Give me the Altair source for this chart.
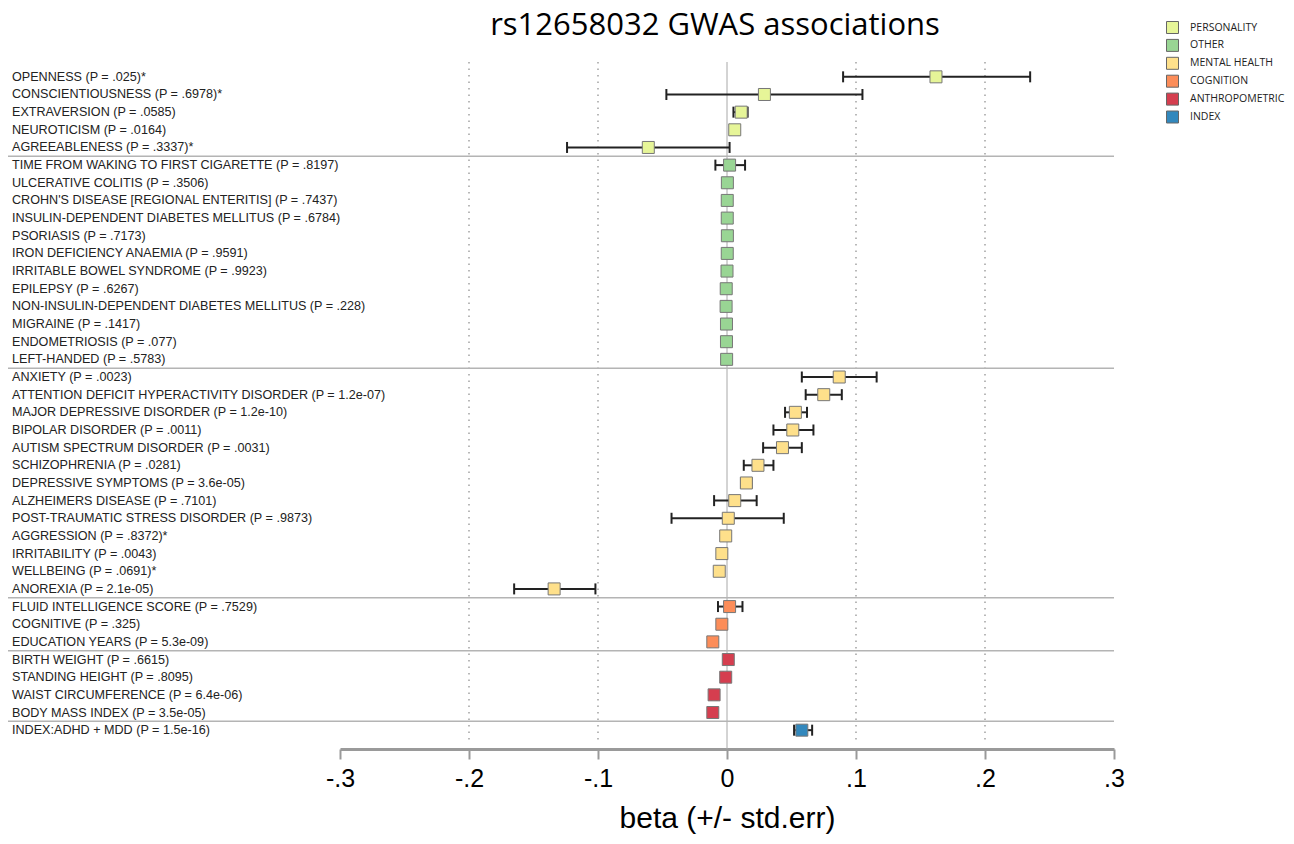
import altair as alt
import pandas as pd

title_text = "rs12658032 GWAS associations"
x_title = "beta (+/- std.err)"

labels = [
    "OPENNESS  (P = .025)*",
    "CONSCIENTIOUSNESS  (P = .6978)*",
    "EXTRAVERSION  (P = .0585)",
    "NEUROTICISM (P = .0164)",
    "AGREEABLENESS (P = .3337)*",
    "TIME FROM WAKING TO FIRST CIGARETTE  (P = .8197)",
    "ULCERATIVE COLITIS (P = .3506)",
    "CROHN'S DISEASE [REGIONAL ENTERITIS] (P = .7437)",
    "INSULIN-DEPENDENT DIABETES MELLITUS (P = .6784)",
    "PSORIASIS (P = .7173)",
    "IRON DEFICIENCY ANAEMIA (P = .9591)",
    "IRRITABLE BOWEL SYNDROME (P = .9923)",
    "EPILEPSY (P = .6267)",
    "NON-INSULIN-DEPENDENT DIABETES MELLITUS (P = .228)",
    "MIGRAINE (P = .1417)",
    "ENDOMETRIOSIS (P = .077)",
    "LEFT-HANDED (P = .5783)",
    "ANXIETY  (P = .0023)",
    "ATTENTION DEFICIT HYPERACTIVITY DISORDER (P = 1.2e-07)",
    "MAJOR DEPRESSIVE DISORDER (P = 1.2e-10)",
    "BIPOLAR DISORDER (P = .0011)",
    "AUTISM SPECTRUM DISORDER  (P = .0031)",
    "SCHIZOPHRENIA  (P = .0281)",
    "DEPRESSIVE SYMPTOMS  (P = 3.6e-05)",
    "ALZHEIMERS DISEASE  (P = .7101)",
    "POST-TRAUMATIC STRESS DISORDER  (P = .9873)",
    "AGGRESSION  (P = .8372)*",
    "IRRITABILITY  (P = .0043)",
    "WELLBEING (P = .0691)*",
    "ANOREXIA (P = 2.1e-05)",
    "FLUID INTELLIGENCE SCORE (P = .7529)",
    "COGNITIVE  (P = .325)",
    "EDUCATION YEARS  (P = 5.3e-09)",
    "BIRTH WEIGHT  (P = .6615)",
    "STANDING HEIGHT  (P = .8095)",
    "WAIST CIRCUMFERENCE  (P = 6.4e-06)",
    "BODY MASS INDEX  (P = 3.5e-05)",
    "INDEX:ADHD + MDD  (P = 1.5e-16)",
]

groups = (["PERSONALITY"] * 5 + ["OTHER"] * 12 + ["MENTAL HEALTH"] * 13
          + ["COGNITION"] * 3 + ["ANTHROPOMETRIC"] * 4 + ["INDEX"])

beta = [0.162, 0.029, 0.011, 0.006, -0.061,
        0.002, 0.0003, 0.0002, 0.0002, 0.0003, 0.0002, 0.0, -0.0006, -0.0007, -0.0004, -0.0004, -0.0003,
        0.087, 0.075, 0.053, 0.051, 0.043, 0.024, 0.015, 0.006, 0.001, -0.001, -0.004, -0.006, -0.134,
        0.002, -0.004, -0.011,
        0.001, -0.001, -0.010, -0.011,
        0.058]

ci_low = [0.090, -0.047, 0.005, 0.003, -0.124,
          -0.009, -0.002, -0.002, -0.002, -0.002, -0.002, -0.002, -0.003, -0.003, -0.002, -0.002, -0.002,
          0.058, 0.061, 0.045, 0.036, 0.028, 0.013, 0.011, -0.010, -0.043, -0.003, -0.006, -0.008, -0.165,
          -0.007, -0.006, -0.013,
          -0.001, -0.003, -0.012, -0.013,
          0.052]

ci_high = [0.235, 0.105, 0.016, 0.009, 0.002,
           0.014, 0.002, 0.002, 0.002, 0.002, 0.002, 0.002, 0.002, 0.002, 0.002, 0.002, 0.002,
           0.116, 0.089, 0.062, 0.067, 0.058, 0.036, 0.019, 0.023, 0.044, 0.001, -0.002, -0.004, -0.102,
           0.012, -0.002, -0.009,
           0.003, 0.001, -0.008, -0.009,
           0.066]

group_order = ["PERSONALITY", "OTHER", "MENTAL HEALTH", "COGNITION", "ANTHROPOMETRIC", "INDEX"]
group_colors = ["#e6f598", "#99d594", "#fee08b", "#fc8d59", "#d53e4f", "#3288bd"]

tick_values = [-0.3, -0.2, -0.1, 0.0, 0.1, 0.2, 0.3]
tick_labels = ["-.3", "-.2", "-.1", "0", ".1", ".2", ".3"]
grid_values = [-0.2, -0.1, 0.1, 0.2]
zero_value = [0.0]

W = 1106
H = 671

df = pd.DataFrame({"label": labels, "group": groups, "beta": beta, "lo": ci_low, "hi": ci_high})
sep_df = df.groupby("group", sort=False).head(1).iloc[1:]

label_expr = "[" + ",".join("'%s'" % t for t in tick_labels) + "][round(datum.value*10)+3]"

xscale = alt.Scale(domain=[-0.3, 0.3], range=[332, W], nice=False, zero=False)
xaxis = alt.Axis(values=tick_values, labelExpr=label_expr, grid=False,
                 domainColor="#9a9a9a", domainWidth=3, tickColor="#9a9a9a", tickWidth=2,
                 tickSize=10, labelFont="Liberation Sans", labelFontSize=25, labelColor="#000",
                 labelPadding=7, labelFlush=False, title=x_title, titleFont="Liberation Sans",
                 titleFontSize=30, titleFontWeight="normal", titleColor="#000", titlePadding=12,
                 offset=10)
yscale = alt.Scale(domain=labels, paddingInner=0, paddingOuter=0)


def X(field):
    return alt.X(field, type="quantitative", scale=xscale, axis=xaxis)


def Y(**kw):
    return alt.Y("label:N", scale=yscale, axis=None, **kw)


grid = alt.Chart(pd.DataFrame({"v": grid_values})).mark_rule(
    color="#8a8a8a", strokeWidth=1.2, strokeDash=[1.5, 5]
).encode(x=X("v"), y=alt.value(-6), y2=alt.value(H + 4))

zero = alt.Chart(pd.DataFrame({"v": zero_value})).mark_rule(
    color="#a8a8a8", strokeWidth=1
).encode(x=X("v"), y=alt.value(-6), y2=alt.value(H + 10))

seps = alt.Chart(sep_df).mark_rule(color="#b4b4b4", strokeWidth=1.5).encode(
    y=Y(bandPosition=0), x=alt.value(0), x2=alt.value(W)
)

text = alt.Chart(df).mark_text(
    align="left", baseline="middle", font="Liberation Sans", fontSize=12.6, color="#222"
).encode(y=Y(), x=alt.value(4), text="label:N")

err = alt.Chart(df).mark_rule(color="#222", strokeWidth=2).encode(
    x=X("lo"), x2="hi", y=Y()
)

caps = alt.Chart(df).transform_fold(["lo", "hi"], as_=["end", "v"]).mark_tick(
    color="#222", thickness=2, size=11, opacity=1
).encode(x=X("v"), y=Y())

squares = alt.Chart(df).mark_square(size=144, opacity=1, stroke="#777", strokeWidth=1).encode(
    x=X("beta"), y=Y(),
    color=alt.Color("group:N", scale=alt.Scale(domain=group_order, range=group_colors),
                    legend=alt.Legend(orient="none", legendX=1158, legendY=-47, title=None,
                                      symbolType="square", symbolSize=144,
                                      symbolStrokeColor="#666", symbolStrokeWidth=1,
                                      labelFont="Open Sans", labelFontSize=10.5,
                                      labelColor="#222", labelOffset=11, rowPadding=0.9,
                                      padding=0)),
)

title = alt.Chart(pd.DataFrame({"t": [title_text]})).mark_text(
    font="Open Sans", fontSize=31, align="center", baseline="alphabetic", color="#000"
).encode(text="t:N", x=alt.value(707), y=alt.value(-33))

chart = alt.layer(grid, zero, seps, text, err, caps, squares, title).properties(
    width=W, height=H,
    autosize=alt.AutoSizeParams(type="none"),
    padding={"left": 0, "top": 60, "right": 172, "bottom": 97},
).configure_view(strokeWidth=0)

chart.save("out.html", embed_options={"renderer": "svg", "actions": False})
